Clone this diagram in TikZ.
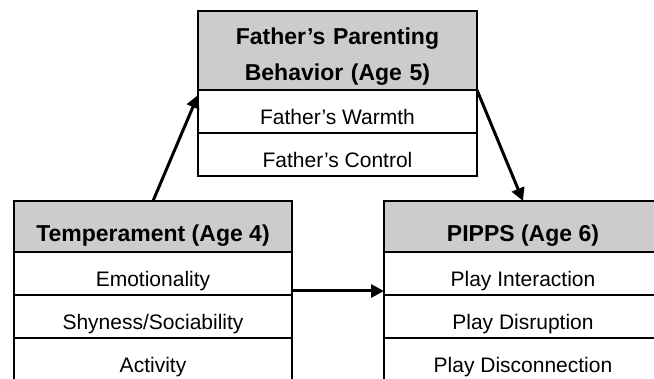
\documentclass[tikz,border=0pt]{standalone}
\usepackage{fontspec}
\setmainfont{Liberation Sans}
\usetikzlibrary{arrows.meta, positioning}

\begin{document}
\begin{tikzpicture}[x=1pt, y=-1pt,
    cell/.style={draw=black, line width=1.4pt, inner sep=0pt, outer sep=0pt,
      minimum width=278pt, minimum height=43pt, text height=27pt, text depth=0pt,
      font=\fontsize{21}{25}\selectfont},
    headcell/.style={cell, fill=gray!40, minimum height=51pt, text height=31pt,
      font=\fontsize{23}{36}\selectfont\bfseries},
    link/.style={line width=3pt, -{Triangle[length=13pt, width=13pt]}}]
    \useasboundingbox (0,0) rectangle (654,379);
    % father (age 5)
    \node[headcell, minimum width=279pt, minimum height=79pt, text width=279pt,
      align=center, text height=34pt, text depth=45pt] (fhead) at (337.5,50.5)
      {Father’s Parenting\\Behavior (Age 5)};
    \node[cell, minimum width=279pt, below=0pt of fhead] (fwarm) {Father’s Warmth};
    \node[cell, minimum width=279pt, below=0pt of fwarm] (fctrl) {Father’s Control};
    % temperament (age 4)
    \node[headcell] (thead) at (153,226.5) {Temperament (Age 4)};
    \node[cell, below=0pt of thead] (temo) {Emotionality};
    \node[cell, below=0pt of temo] (tshy) {Shyness/Sociability};
    \node[cell, below=0pt of tshy] (tact) {Activity};
    % pipps (age 6)
    \node[headcell] (phead) at (523,226.5) {PIPPS (Age 6)};
    \node[cell, below=0pt of phead] (pint) {Play Interaction};
    \node[cell, below=0pt of pint] (pdis) {Play Disruption};
    \node[cell, below=0pt of pdis] (pdcn) {Play Disconnection};
    % paths
    \draw[link] (thead.north) -- ([yshift=-5pt]fhead.south west);
    \draw[link] (fhead.south east) -- (phead.north);
    \draw[link] ([yshift=4pt]temo.south east) -- ([yshift=4pt]pint.south west);
\end{tikzpicture}
\end{document}
